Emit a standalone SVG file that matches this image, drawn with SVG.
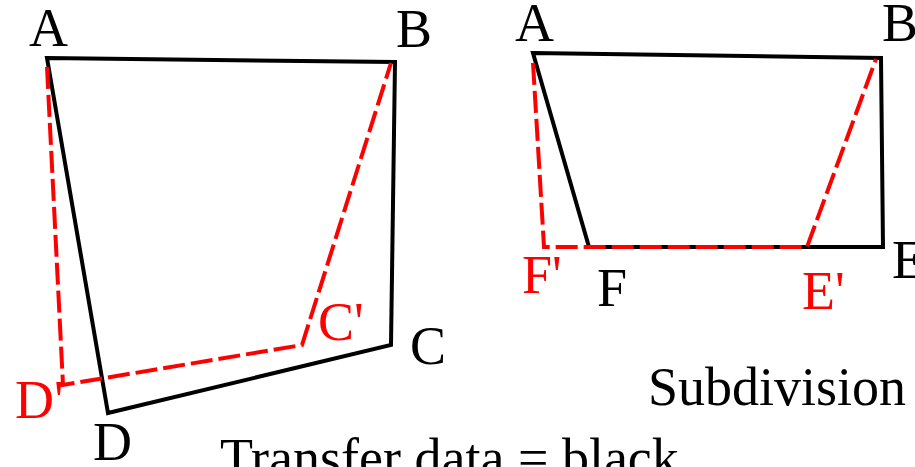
<svg xmlns="http://www.w3.org/2000/svg" width="915" height="467" viewBox="0 0 915 467">
<style>
.blk{fill:none;stroke:#000;stroke-width:4;stroke-linejoin:miter}
.red{fill:none;stroke:#f00;stroke-width:4;stroke-dasharray:22 6}
text{font-family:"Liberation Serif","Times New Roman",serif;font-size:54px}
.k{fill:#000}
.r{fill:#f00}
</style>
<rect width="915" height="467" fill="#fff"/>
<g id="connectors">
<polygon class="blk" points="47,58 395,62 391,345 108,413"/>
<polyline class="red" points="47,67 63,385 302,345 391,63"/>
<polygon class="blk" points="533,53 881,58 883,247 589,247"/>
<polyline class="red" points="533,63 544,247 807,247 876,59"/>
</g>
<g id="labels-left">
<text class="k" x="29" y="46">A</text>
<text class="k" x="396" y="47">B</text>
<text class="k" x="410" y="364">C</text>
<text class="k" x="93" y="460">D</text>
<text class="r" x="318" y="340">C'</text>
<text class="r" x="15" y="418">D'</text>
</g>
<g id="labels-right">
<text class="k" x="515" y="41">A</text>
<text class="k" x="882" y="41">B</text>
<text class="k" x="892" y="278">E</text>
<text class="k" x="597" y="306">F</text>
<text class="r" x="522" y="293">F'</text>
<text class="r" x="802" y="309">E'</text>
</g>
<g id="captions">
<text class="k" x="648" y="405">Subdivision</text>
<text class="k" x="220" y="476">Transfer data = black</text>
</g>
</svg>
